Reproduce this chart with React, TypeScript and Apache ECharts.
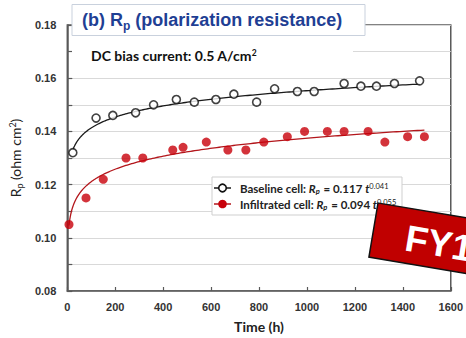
import React, { useEffect, useRef } from "react";
import * as echarts from "echarts";

// Measured polarization resistance (ohm cm^2) versus time (h)
const baselineTime = [23, 120, 190, 285, 360, 455, 530, 620, 695, 790, 865, 960, 1030, 1155, 1225, 1290, 1365, 1470];
const baselineRp = [0.132, 0.145, 0.146, 0.147, 0.15, 0.152, 0.151, 0.152, 0.154, 0.151, 0.156, 0.155, 0.155, 0.158, 0.157, 0.157, 0.158, 0.159];

const infiltratedTime = [7, 78, 150, 245, 315, 440, 483, 580, 670, 745, 820, 918, 990, 1085, 1155, 1255, 1325, 1420, 1490];
const infiltratedRp = [0.105, 0.115, 0.122, 0.13, 0.13, 0.133, 0.134, 0.136, 0.133, 0.133, 0.136, 0.138, 0.14, 0.14, 0.14, 0.14, 0.136, 0.138, 0.138];

// Power-law fits Rp = a * t^b, as given in the legend
const baselineFit = { a: 0.117, b: 0.041, from: 23, to: 1470 };
const infiltratedFit = { a: 0.094, b: 0.055, from: 7, to: 1490 };

const xTicks = [0, 200, 400, 600, 800, 1000, 1200, 1400, 1600];

function fitCurve(fit: { a: number; b: number; from: number; to: number }) {
  const pts: number[][] = [];
  const n = 200;
  for (let i = 0; i <= n; i++) {
    // denser sampling near the start where the curve bends sharply
    const t = fit.from + (fit.to - fit.from) * Math.pow(i / n, 2);
    pts.push([t, fit.a * Math.pow(t, fit.b)]);
  }
  return pts;
}

const zip = (xs: number[], ys: number[]) => xs.map((x, i) => [x, ys[i]]);

const TXT = "Lato, 'Liberation Sans', sans-serif";
const NUM = "'Liberation Sans', Arial, sans-serif";

export default function App() {
  const ref = useRef<HTMLDivElement>(null);

  useEffect(() => {
    if (!ref.current) return;
    const chart = echarts.init(ref.current, null, { renderer: "svg" });

    const legendRich = {
      a: { fontFamily: TXT, fontWeight: "bold", fontSize: 11.5, fill: "#222", lineHeight: 14 },
      i: { fontFamily: TXT, fontWeight: "bold", fontStyle: "italic", fontSize: 11.5, fill: "#222", lineHeight: 14 },
      s: { fontFamily: TXT, fontWeight: "bold", fontStyle: "italic", fontSize: 7.5, fill: "#222", lineHeight: 14, verticalAlign: "bottom", padding: [0, 1, 0, 0] },
      u: { fontFamily: TXT, fontSize: 7.5, fill: "#222", lineHeight: 14, verticalAlign: "bottom", padding: [0, 0, 5, 0] },
    };

    chart.setOption({
      animation: false,
      backgroundColor: "#fff",
      grid: {
        left: 65,
        right: 9,
        top: 25,
        bottom: 44,
        show: true,
        borderColor: "#595959",
        borderWidth: 1.5,
        backgroundColor: "transparent",
      },
      xAxis: {
        type: "value",
        min: xTicks[0],
        max: xTicks[xTicks.length - 1],
        interval: 200,
        name: "Time (h)",
        nameLocation: "middle",
        nameGap: 28,
        nameTextStyle: { fontFamily: TXT, fontWeight: "bold", fontSize: 14, color: "#222" },
        axisLine: { show: true, lineStyle: { color: "#595959", width: 1.5 } },
        axisTick: { show: true, inside: true, length: 4, lineStyle: { color: "#595959", width: 1.2 } },
        axisLabel: {
          fontFamily: NUM,
          fontWeight: "bold",
          fontSize: 11,
          color: "#333",
          margin: 10,
          formatter: (v: number) => String(Math.round(v)),
        },
        splitLine: { show: false },
      },
      yAxis: {
        type: "value",
        min: 0.08,
        max: 0.18,
        interval: 0.01,
        name: "{a|R}{s|p}{a| (ohm cm}{u|2}{a|)}",
        nameLocation: "middle",
        nameGap: 32,
        nameTextStyle: {
          rich: {
            a: { fontFamily: TXT, fontSize: 14, color: "#222", lineHeight: 18 },
            s: { fontFamily: TXT, fontSize: 9, color: "#222", lineHeight: 18, verticalAlign: "bottom" },
            u: { fontFamily: TXT, fontSize: 9, color: "#222", lineHeight: 18, verticalAlign: "bottom", padding: [0, 0, 7, 0] },
          },
        },
        axisLine: { show: true, lineStyle: { color: "#595959", width: 1.5 } },
        axisTick: { show: true, inside: true, length: 5, lineStyle: { color: "#595959", width: 1.2 } },
        axisLabel: {
          fontFamily: NUM,
          fontWeight: "bold",
          fontSize: 11,
          color: "#333",
          margin: 11,
          formatter: (v: number) => {
            const k = Math.round(v * 100);
            return k % 2 === 0 ? (k / 100).toFixed(2) : "";
          },
        },
        splitLine: { show: true, lineStyle: { color: "#d9d9d9", width: 1 } },
      },
      series: [
        {
          name: "Baseline fit",
          type: "line",
          data: fitCurve(baselineFit),
          showSymbol: false,
          lineStyle: { color: "#1a1a1a", width: 1.3 },
          z: 2,
        },
        {
          name: "Infiltrated fit",
          type: "line",
          data: fitCurve(infiltratedFit),
          showSymbol: false,
          lineStyle: { color: "#b3161b", width: 1.3 },
          z: 2,
        },
        {
          name: "Baseline cell",
          type: "scatter",
          data: zip(baselineTime, baselineRp),
          symbol: "circle",
          symbolSize: 8,
          itemStyle: { color: "#fff", borderColor: "#111", borderWidth: 1.6 },
          z: 3,
        },
        {
          name: "Infiltrated cell",
          type: "scatter",
          data: zip(infiltratedTime, infiltratedRp),
          symbol: "circle",
          symbolSize: 9,
          itemStyle: { color: "#c8000a" },
          z: 3,
        },
      ],
      graphic: [
        // title panel
        {
          type: "rect",
          z: 10,
          shape: { x: 72, y: 4.5, width: 293, height: 31 },
          style: { fill: "#fff", stroke: "#c9d1dd", lineWidth: 1 },
        },
        {
          type: "text",
          z: 11,
          style: {
            x: 82,
            y: 20,
            verticalAlign: "middle",
            text: "{t|(b) R}{s|p}{t| (polarization resistance)}",
            rich: {
              t: { fontFamily: NUM, fontWeight: "bold", fontSize: 18, fill: "#1f3f94", lineHeight: 24 },
              s: { fontFamily: NUM, fontWeight: "bold", fontSize: 12, fill: "#1f3f94", lineHeight: 24, verticalAlign: "bottom" },
            },
          },
        },
        // condition note
        {
          type: "rect",
          z: 10,
          shape: { x: 72, y: 43, width: 281, height: 22 },
          style: { fill: "#fff" },
        },
        {
          type: "text",
          z: 11,
          style: {
            x: 91,
            y: 55,
            verticalAlign: "middle",
            text: "{a|DC bias current: 0.5 A/cm}{u|2}",
            rich: {
              a: { fontFamily: TXT, fontWeight: "bold", fontSize: 14, fill: "#111", lineHeight: 18 },
              u: { fontFamily: TXT, fontWeight: "bold", fontSize: 8.5, fill: "#111", lineHeight: 18, verticalAlign: "bottom", padding: [0, 0, 7, 0] },
            },
          },
        },
        // legend
        {
          type: "rect",
          z: 10,
          shape: { x: 212, y: 177, width: 190, height: 38 },
          style: { fill: "#fff", stroke: "#cfcfcf", lineWidth: 1 },
        },
        {
          type: "line",
          z: 11,
          shape: { x1: 214, y1: 188, x2: 231, y2: 188 },
          style: { stroke: "#1a1a1a", lineWidth: 1.5 },
        },
        {
          type: "circle",
          z: 12,
          shape: { cx: 222.5, cy: 188, r: 3.8 },
          style: { fill: "#fff", stroke: "#111", lineWidth: 1.6 },
        },
        {
          type: "line",
          z: 11,
          shape: { x1: 214, y1: 204, x2: 231, y2: 204 },
          style: { stroke: "#b3161b", lineWidth: 1.5 },
        },
        {
          type: "circle",
          z: 12,
          shape: { cx: 222.5, cy: 204, r: 4.3 },
          style: { fill: "#c8000a" },
        },
        {
          type: "text",
          z: 12,
          style: {
            x: 240,
            y: 188,
            verticalAlign: "middle",
            text: "{a|Baseline cell: }{i|R}{s|p}{a| = 0.117 }{i|t}{u|0.041}",
            rich: legendRich,
          },
        },
        {
          type: "text",
          z: 12,
          style: {
            x: 240,
            y: 204,
            verticalAlign: "middle",
            text: "{a|Infiltrated cell: }{i|R}{s|p}{a| = 0.094 }{i|t}{u|0.055}",
            rich: legendRich,
          },
        },
        // fiscal-year stamp
        {
          type: "group",
          z: 20,
          x: 378,
          y: 203,
          rotation: -0.166,
          children: [
            {
              type: "rect",
              z: 20,
              shape: { x: 0, y: 0, width: 140, height: 55 },
              style: { fill: "#c00000", stroke: "#111", lineWidth: 1.5 },
            },
            {
              type: "text",
              z: 21,
              style: {
                x: 33,
                y: 30,
                verticalAlign: "middle",
                text: "FY1",
                fill: "#fff",
                font: "bold 37px 'Liberation Sans', Arial, sans-serif",
              },
            },
          ],
        },
      ],
    });

    return () => chart.dispose();
  }, []);

  return <div ref={ref} style={{ width: 466, height: 338, position: "absolute", left: 0, top: 0 }} />;
}
